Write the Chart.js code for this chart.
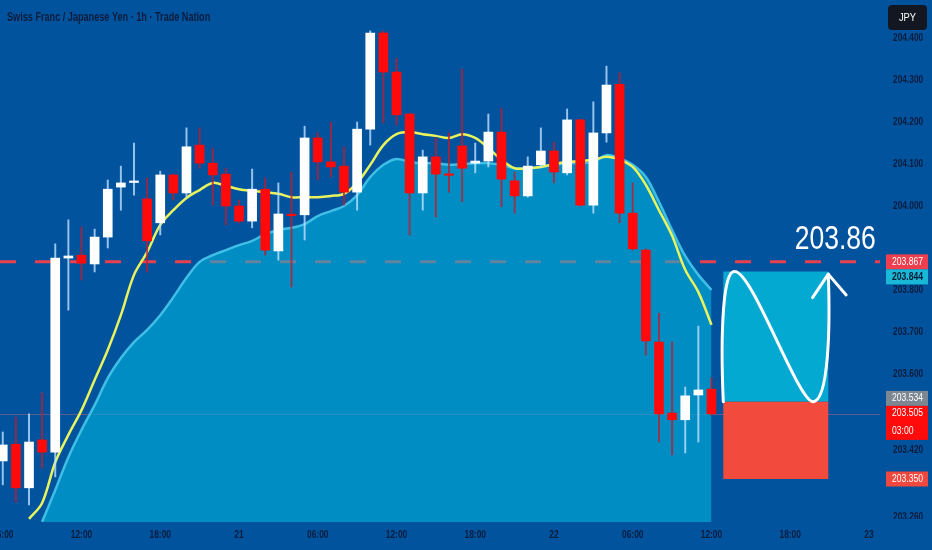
<!DOCTYPE html>
<html lang="en">
<head>
<meta charset="UTF-8">
<title>Swiss Franc / Japanese Yen · 1h</title>
<script src="https://cdn.jsdelivr.net/npm/chart.js"></script>
<style>
    html, body { margin: 0; padding: 0; background: #01539e; }
    #wrap { width: 932px; height: 550px; }
</style>
</head>
<body>
<div id="wrap"><canvas id="chart" width="932" height="550"></canvas></div>
<script>
// hours counted from the 20th 00:00
const hours = [6, 7, 8, 9, 10, 11, 12, 13, 14, 15, 16, 17, 18, 19, 20, 21, 22, 23, 24, 25,
    26, 27, 28, 29, 30, 31, 32, 33, 34, 35, 36, 37, 38, 39, 40, 41, 42, 43, 44, 45,
    46, 47, 48, 49, 50, 51, 52, 53, 54, 55, 56, 57, 58, 59, 60];

const opens = [203.393, 203.433, 203.329, 203.443, 203.414, 203.876, 203.883, 203.862, 203.926, 204.045,
    204.056, 204.017, 203.960, 204.074, 204.031, 204.145, 204.102, 204.076, 204.000, 203.964,
    204.040, 203.893, 203.980, 203.979, 204.162, 204.105, 204.095, 204.033, 204.183, 204.412,
    204.319, 204.219, 204.031, 204.117, 204.075, 204.143, 204.102, 204.107, 204.176, 204.060,
    204.024, 204.098, 204.131, 204.079, 204.205, 204.002, 204.174, 204.290, 203.983, 203.895,
    203.676, 203.507, 203.491, 203.550, 203.564];
const highs = [203.462, 203.498, 203.505, 203.555, 203.910, 203.967, 203.950, 203.945, 204.062, 204.095,
    204.150, 204.067, 204.083, 204.076, 204.186, 204.186, 204.138, 204.090, 204.014, 204.088,
    204.067, 204.055, 204.081, 204.190, 204.174, 204.200, 204.140, 204.200, 204.417, 204.417,
    204.352, 204.221, 204.133, 204.162, 204.174, 204.326, 204.150, 204.219, 204.233, 204.081,
    204.117, 204.186, 204.152, 204.231, 204.207, 204.248, 204.333, 204.317, 204.055, 203.898,
    203.745, 203.676, 203.569, 203.714, 203.591];
const lows = [203.336, 203.295, 203.288, 203.376, 203.355, 203.752, 203.824, 203.843, 203.900, 203.990,
    204.026, 203.843, 203.931, 204.014, 204.021, 204.090, 204.002, 203.955, 203.960, 203.948,
    203.883, 203.871, 203.807, 203.919, 204.062, 204.069, 204.002, 203.990, 204.145, 204.198,
    204.193, 203.931, 203.990, 203.974, 204.033, 204.010, 204.079, 204.093, 203.998, 203.983,
    204.021, 204.093, 204.055, 204.074, 204.000, 203.983, 204.152, 203.960, 203.895, 203.645,
    203.438, 203.407, 203.412, 203.438, 203.502];
const closes = [203.431, 203.329, 203.438, 203.414, 203.876, 203.881, 203.864, 203.926, 204.040, 204.055,
    204.058, 203.917, 204.074, 204.031, 204.141, 204.102, 204.074, 204.000, 203.964, 204.040,
    203.895, 203.981, 203.977, 204.162, 204.105, 204.093, 204.033, 204.183, 204.412, 204.319,
    204.217, 204.031, 204.117, 204.076, 204.073, 204.090, 204.107, 204.176, 204.064, 204.024,
    204.095, 204.131, 204.081, 204.205, 204.002, 204.174, 204.288, 203.983, 203.898, 203.679,
    203.505, 203.491, 203.548, 203.562, 203.505];

// yellow moving average, hours 8..60
const fastMa = [203.255, 203.293, 203.390, 203.455, 203.514, 203.586, 203.657, 203.740, 203.836, 203.890,
    203.955, 203.990, 204.019, 204.038, 204.055, 204.048, 204.040, 204.036, 204.033, 204.029,
    204.021, 204.021, 204.021, 204.024, 204.029, 204.055, 204.098, 204.145, 204.171, 204.176,
    204.171, 204.167, 204.162, 204.171, 204.162, 204.138, 204.110, 204.090, 204.090, 204.093,
    204.100, 204.105, 204.107, 204.110, 204.117, 204.110, 204.093, 204.050, 203.990, 203.929,
    203.848, 203.795, 203.717];
// slower average drawn as the filled area, hours 9..60
const slowMa = [203.248, 203.324, 203.402, 203.467, 203.526, 203.590, 203.638, 203.676, 203.705, 203.740,
    203.783, 203.829, 203.867, 203.883, 203.895, 203.907, 203.917, 203.933, 203.943, 203.948,
    203.957, 203.976, 203.988, 204.000, 204.026, 204.069, 204.098, 204.112, 204.105, 204.102,
    204.102, 204.098, 204.100, 204.102, 204.102, 204.098, 204.090, 204.090, 204.093, 204.098,
    204.102, 204.102, 204.105, 204.121, 204.114, 204.098, 204.069, 204.010, 203.943, 203.881,
    203.836, 203.800];

const timeTicks = [6, 12, 18, 24, 30, 36, 42, 48, 54, 60, 66, 72];
const timeLabels = ['06:00', '12:00', '18:00', '21', '06:00', '12:00', '18:00', '22', '06:00', '12:00', '18:00', '23'];
const priceTicks = [204.4, 204.3, 204.2, 204.1, 204.0, 203.8, 203.7, 203.6, 203.42, 203.26];

const targetPrice = 203.867;
const lastPrice = 203.505;
const tradeTop = 203.844;
const tradeEntry = 203.534;
const tradeStop = 203.350;
const tradeFrom = 60.9;
const tradeTo = 68.9;

const tagPrices = [203.867, 203.844, 203.534, 203.505, 203.350];
const tagSubs = ['', '', '', '03:00', ''];
const tagFills = ['#ef3e4e', '#19b8d6', '#7d8791', '#ff0b0b', '#f0483e'];
const tagInk = ['#ffffff', '#0a1a33', '#ffffff', '#ffffff', '#ffffff'];

const BG = '#01539e';
const AXIS_INK = '#0b1c3c';

// visible window
const xMin = 5.79, xMax = 72.84;
const yMin = 203.2476, yMax = 204.4905;

const isUp = hours.map((h, i) => closes[i] >= opens[i]);

// squeezed text, like the narrow labels of the screenshot
function sqText(ctx, text, x, y, size, color, align, weight, sx) {
    ctx.save();
    ctx.font = (weight || 'normal') + ' ' + size + 'px "Liberation Sans", Arial, sans-serif';
    ctx.fillStyle = color;
    ctx.textBaseline = 'middle';
    ctx.textAlign = 'left';
    const w = ctx.measureText(text).width * sx;
    const left = align === 'center' ? x - w / 2 : (align === 'right' ? x - w : x);
    ctx.translate(left, y);
    ctx.scale(sx, 1);
    ctx.fillText(text, 0, 0);
    ctx.restore();
}

function tagBoxes(y) {
    const liveIdx = tagSubs.findIndex(s => s !== '');
    const liveTop = y.getPixelForValue(tagPrices[liveIdx]) - 8;
    const liveBottom = liveTop + 34;
    let prevBottom = -100;
    return tagPrices.map((p, i) => {
        let top, hgt;
        if (i === liveIdx) {
            top = liveTop; hgt = 34;
        } else {
            hgt = 15;
            top = y.getPixelForValue(p) - 7.5;
            if (top < prevBottom) top = prevBottom;
            if (top + hgt > liveTop && top < liveBottom) {
                top = p > tagPrices[liveIdx] ? liveTop - hgt : liveBottom;
            }
        }
        prevBottom = top + hgt;
        return {top, hgt};
    });
}

const overlay = {
    id: 'overlay',
    beforeDraw(chart) {
        const ctx = chart.ctx;
        ctx.save();
        ctx.fillStyle = BG;
        ctx.fillRect(0, 0, chart.width, chart.height);
        ctx.restore();
    },
    beforeDatasetsDraw(chart) {
        const {ctx, chartArea: a, scales: {y}} = chart;
        ctx.save();
        // thin last price line
        const yl = Math.round(y.getPixelForValue(lastPrice)) + 0.5;
        ctx.strokeStyle = 'rgba(255,110,120,0.35)';
        ctx.lineWidth = 1;
        ctx.beginPath(); ctx.moveTo(a.left, yl); ctx.lineTo(a.right, yl); ctx.stroke();
        // target dashed line
        const yt = y.getPixelForValue(targetPrice);
        ctx.setLineDash([16, 19]);
        ctx.lineWidth = 3;
        ctx.strokeStyle = '#e8404e';
        ctx.beginPath(); ctx.moveTo(a.left, yt); ctx.lineTo(a.right, yt); ctx.stroke();
        ctx.restore();
    },
    afterDatasetsDraw(chart) {
        const {ctx, scales: {x, y}} = chart;
        const L = x.getPixelForValue(tradeFrom), R = x.getPixelForValue(tradeTo);
        const T = y.getPixelForValue(tradeTop), M = y.getPixelForValue(tradeEntry), B = y.getPixelForValue(tradeStop);
        const w = R - L, h = M - T;
        ctx.save();
        ctx.fillStyle = '#03a9d0';
        ctx.fillRect(L, T, w, M - T);
        ctx.fillStyle = '#f24a3d';
        ctx.fillRect(L, M, w, B - M);

        // hand drawn wave with arrow
        ctx.strokeStyle = '#ffffff';
        ctx.lineWidth = 3;
        ctx.lineCap = 'round';
        ctx.lineJoin = 'round';
        ctx.beginPath();
        ctx.moveTo(L, M);
        ctx.bezierCurveTo(L - 0.03 * w, T + 0.45 * h, L + 0.0 * w, T - 0.02 * h, L + 0.11 * w, T);
        ctx.bezierCurveTo(L + 0.28 * w, T + 0.0 * h, L + 0.72 * w, M + 0.02 * h, L + 0.86 * w, M);
        ctx.bezierCurveTo(L + 1.0 * w, M - 0.02 * h, L + 1.02 * w, T + 0.45 * h, R, T + 0.02 * h);
        ctx.stroke();
        ctx.beginPath();
        ctx.moveTo(L + 0.85 * w, T + 0.2 * h);
        ctx.lineTo(R, T + 0.02 * h);
        ctx.lineTo(R + 0.17 * w, T + 0.18 * h);
        ctx.stroke();
        ctx.restore();

        // target text
        const yt = y.getPixelForValue(targetPrice);
        sqText(ctx, '203.86', R + 7, yt - 22, 34, '#ffffff', 'center', 'normal', 0.78);
    },
    afterDraw(chart) {
        const {ctx, chartArea: a, scales: {x, y}} = chart;

        // time axis
        timeTicks.forEach((t, i) => {
            sqText(ctx, timeLabels[i], x.getPixelForValue(t), 535, 11, AXIS_INK, 'center', 'bold', 0.76);
        });

        // price axis
        ctx.save();
        ctx.beginPath(); ctx.rect(a.right, 0, chart.width - a.right, a.bottom - 3); ctx.clip();
        priceTicks.forEach(p => {
            sqText(ctx, p.toFixed(3), 893, y.getPixelForValue(p), 11, AXIS_INK, 'left', 'bold', 0.76);
        });
        ctx.restore();

        // price tags
        const boxes = tagBoxes(y);
        tagPrices.forEach((p, i) => {
            ctx.save();
            ctx.fillStyle = tagFills[i];
            ctx.fillRect(886, boxes[i].top, 42, boxes[i].hgt);
            ctx.restore();
            const wt = tagInk[i] === '#ffffff' ? 'normal' : 'bold';
            sqText(ctx, p.toFixed(3), 892, boxes[i].top + 7.5, 11, tagInk[i], 'left', wt, 0.78);
            if (tagSubs[i]) sqText(ctx, tagSubs[i], 892, boxes[i].top + 25, 11, tagInk[i], 'left', wt, 0.78);
        });

        // currency badge
        ctx.save();
        ctx.fillStyle = '#131722';
        ctx.beginPath();
        ctx.roundRect(888, 5, 39, 25, 4);
        ctx.fill();
        ctx.restore();
        sqText(ctx, 'JPY', 907.5, 18, 11, '#ffffff', 'center', 'normal', 0.85);

        // title
        sqText(ctx, 'Swiss Franc / Japanese Yen · 1h · Trade Nation', 7, 18, 12, AXIS_INK, 'left', 'bold', 0.76);
    }
};

new Chart(document.getElementById('chart'), {
    type: 'bar',
    data: {
        datasets: [
            {
                type: 'line',
                label: 'fast',
                data: hours.slice(2).map((h, i) => ({x: h, y: fastMa[i]})),
                borderColor: '#e9f35e',
                borderWidth: 2.5,
                pointRadius: 0,
                tension: 0.35,
                fill: false,
                order: 2
            },
            {
                label: 'bodies',
                data: hours.map((h, i) => ({x: h, y: [opens[i], closes[i]]})),
                backgroundColor: isUp.map(u => u ? '#ffffff' : '#ff0a0a'),
                borderWidth: 0,
                barThickness: 9,
                minBarLength: 1.5,
                grouped: false,
                order: 0
            },
            {
                label: 'wicks',
                data: hours.map((h, i) => ({x: h, y: [lows[i], highs[i]]})),
                backgroundColor: isUp.map(u => u ? 'rgba(190,225,255,0.8)' : 'rgba(185,30,50,0.8)'),
                borderWidth: 0,
                barThickness: 1.3,
                grouped: false,
                order: 1
            },
            {
                type: 'line',
                label: 'slow',
                data: hours.slice(3).map((h, i) => ({x: h, y: slowMa[i]})),
                borderColor: 'rgba(70,200,235,0.9)',
                borderWidth: 2.5,
                backgroundColor: 'rgba(0,182,222,0.58)',
                pointRadius: 0,
                tension: 0.35,
                fill: 'start',
                order: 3
            }
        ]
    },
    options: {
        responsive: false,
        animation: false,
        layout: { padding: { left: 0, top: 0, right: 52, bottom: 28 } },
        plugins: {
            legend: { display: false },
            tooltip: { enabled: false }
        },
        scales: {
            x: { type: 'linear', min: xMin, max: xMax, offset: false, display: false },
            y: { min: yMin, max: yMax, display: false }
        }
    },
    plugins: [overlay]
});
</script>
</body>
</html>
